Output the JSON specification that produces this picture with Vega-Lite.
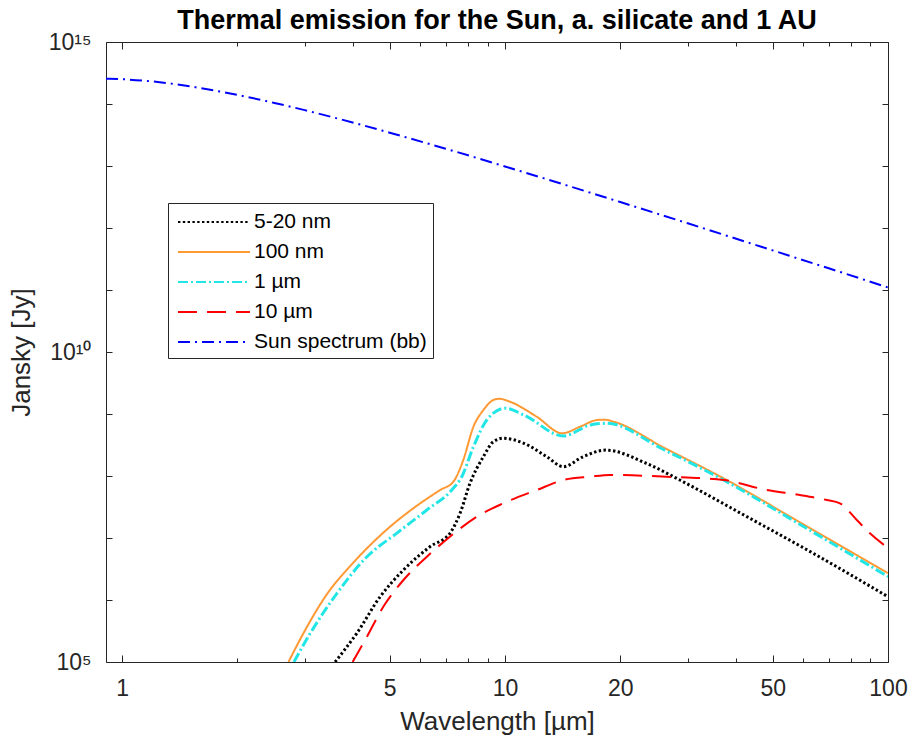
{
  "$schema": "https://vega.github.io/schema/vega-lite/v6.json",
  "width": 782,
  "height": 620,
  "autosize": {"type": "none"},
  "padding": {"left": 106, "top": 42, "right": 22, "bottom": 82},
  "background": "#ffffff",
  "title": {
    "text": "Thermal emission for the Sun, a. silicate and 1 AU",
    "anchor": "middle",
    "font": "Liberation Sans",
    "fontSize": 27,
    "fontWeight": "bold",
    "color": "#000000",
    "offset": -4
  },
  "datasets": {
    "spectra": [
      {"series": "5-20 nm", "wl": 3.6, "jy": 1.0e5},
      {"series": "5-20 nm", "wl": 4.1, "jy": 2.9e5},
      {"series": "5-20 nm", "wl": 4.72, "jy": 1.13e6},
      {"series": "5-20 nm", "wl": 5.43, "jy": 3.05e6},
      {"series": "5-20 nm", "wl": 6.37, "jy": 7.24e6},
      {"series": "5-20 nm", "wl": 7.18, "jy": 1.19e7},
      {"series": "5-20 nm", "wl": 7.63, "jy": 2.5e7},
      {"series": "5-20 nm", "wl": 8.1, "jy": 7.62e7},
      {"series": "5-20 nm", "wl": 8.78, "jy": 2.05e8},
      {"series": "5-20 nm", "wl": 9.32, "jy": 3.57e8},
      {"series": "5-20 nm", "wl": 9.9, "jy": 4.06e8},
      {"series": "5-20 nm", "wl": 11.2, "jy": 3.37e8},
      {"series": "5-20 nm", "wl": 12.85, "jy": 2.05e8},
      {"series": "5-20 nm", "wl": 14.2, "jy": 1.41e8},
      {"series": "5-20 nm", "wl": 16.0, "jy": 2.05e8},
      {"series": "5-20 nm", "wl": 18.3, "jy": 2.62e8},
      {"series": "5-20 nm", "wl": 23.4, "jy": 1.6e8},
      {"series": "5-20 nm", "wl": 28.6, "jy": 8.61e7},
      {"series": "5-20 nm", "wl": 42.8, "jy": 2.21e7},
      {"series": "5-20 nm", "wl": 63.8, "jy": 5.66e6},
      {"series": "5-20 nm", "wl": 100, "jy": 1.13e6},

      {"series": "100 nm", "wl": 2.72, "jy": 1.0e5},
      {"series": "100 nm", "wl": 2.975, "jy": 2.9e5},
      {"series": "100 nm", "wl": 3.49, "jy": 1.45e6},
      {"series": "100 nm", "wl": 3.86, "jy": 3.05e6},
      {"series": "100 nm", "wl": 4.36, "jy": 6.82e6},
      {"series": "100 nm", "wl": 5.01, "jy": 1.52e7},
      {"series": "100 nm", "wl": 5.76, "jy": 3.01e7},
      {"series": "100 nm", "wl": 6.77, "jy": 5.94e7},
      {"series": "100 nm", "wl": 7.33, "jy": 8.09e7},
      {"series": "100 nm", "wl": 7.78, "jy": 1.81e8},
      {"series": "100 nm", "wl": 8.27, "jy": 6.24e8},
      {"series": "100 nm", "wl": 8.78, "jy": 1.16e9},
      {"series": "100 nm", "wl": 9.32, "jy": 1.68e9},
      {"series": "100 nm", "wl": 9.65, "jy": 1.76e9},
      {"series": "100 nm", "wl": 10.3, "jy": 1.58e9},
      {"series": "100 nm", "wl": 12.1, "jy": 9.04e8},
      {"series": "100 nm", "wl": 14.1, "jy": 4.89e8},
      {"series": "100 nm", "wl": 15.7, "jy": 6.24e8},
      {"series": "100 nm", "wl": 17.4, "jy": 8.0e8},
      {"series": "100 nm", "wl": 18.2, "jy": 8.1e8},
      {"series": "100 nm", "wl": 19.2, "jy": 7.52e8},
      {"series": "100 nm", "wl": 26, "jy": 2.86e8},
      {"series": "100 nm", "wl": 37.2, "jy": 9.18e7},
      {"series": "100 nm", "wl": 60, "jy": 1.67e7},
      {"series": "100 nm", "wl": 100, "jy": 2.72e6},

      {"series": "1 µm", "wl": 2.81, "jy": 1.0e5},
      {"series": "1 µm", "wl": 3.1, "jy": 2.9e5},
      {"series": "1 µm", "wl": 3.64, "jy": 1.28e6},
      {"series": "1 µm", "wl": 4.36, "jy": 4.99e6},
      {"series": "1 µm", "wl": 5.21, "jy": 1.19e7},
      {"series": "1 µm", "wl": 6.25, "jy": 2.83e7},
      {"series": "1 µm", "wl": 7.26, "jy": 5.94e7},
      {"series": "1 µm", "wl": 7.71, "jy": 9.75e7},
      {"series": "1 µm", "wl": 8.27, "jy": 2.97e8},
      {"series": "1 µm", "wl": 8.96, "jy": 8.0e8},
      {"series": "1 µm", "wl": 10.0, "jy": 1.24e9},
      {"series": "1 µm", "wl": 11.2, "jy": 9.64e8},
      {"series": "1 µm", "wl": 14.2, "jy": 4.42e8},
      {"series": "1 µm", "wl": 16.7, "jy": 6.65e8},
      {"series": "1 µm", "wl": 18.4, "jy": 7.08e8},
      {"series": "1 µm", "wl": 26, "jy": 2.65e8},
      {"series": "1 µm", "wl": 37.2, "jy": 8.61e7},
      {"series": "1 µm", "wl": 60, "jy": 1.55e7},
      {"series": "1 µm", "wl": 100, "jy": 2.38e6},

      {"series": "10 µm", "wl": 4.0, "jy": 1.0e5},
      {"series": "10 µm", "wl": 4.36, "jy": 2.56e5},
      {"series": "10 µm", "wl": 4.81, "jy": 7.8e5},
      {"series": "10 µm", "wl": 5.43, "jy": 2.1e6},
      {"series": "10 µm", "wl": 6.25, "jy": 4.99e6},
      {"series": "10 µm", "wl": 7.18, "jy": 1.05e7},
      {"series": "10 µm", "wl": 8.44, "jy": 2.21e7},
      {"series": "10 µm", "wl": 9.9, "jy": 3.63e7},
      {"series": "10 µm", "wl": 12.1, "jy": 5.94e7},
      {"series": "10 µm", "wl": 14.2, "jy": 8.61e7},
      {"series": "10 µm", "wl": 16.7, "jy": 9.75e7},
      {"series": "10 µm", "wl": 18.8, "jy": 1.04e8},
      {"series": "10 µm", "wl": 26.4, "jy": 9.75e7},
      {"series": "10 µm", "wl": 37.2, "jy": 8.61e7},
      {"series": "10 µm", "wl": 48.2, "jy": 5.94e7},
      {"series": "10 µm", "wl": 58.9, "jy": 4.94e7},
      {"series": "10 µm", "wl": 69.2, "jy": 4.1e7},
      {"series": "10 µm", "wl": 74.9, "jy": 3.63e7},
      {"series": "10 µm", "wl": 82.9, "jy": 1.95e7},
      {"series": "10 µm", "wl": 89.7, "jy": 1.19e7},
      {"series": "10 µm", "wl": 100, "jy": 6.9e6},

      {"series": "Sun spectrum (bb)", "wl": 0.908, "jy": 2.56e14},
      {"series": "Sun spectrum (bb)", "wl": 1.0, "jy": 2.51e14},
      {"series": "Sun spectrum (bb)", "wl": 1.2, "jy": 2.31e14},
      {"series": "Sun spectrum (bb)", "wl": 1.5, "jy": 1.93e14},
      {"series": "Sun spectrum (bb)", "wl": 2.0, "jy": 1.4e14},
      {"series": "Sun spectrum (bb)", "wl": 2.5, "jy": 1.04e14},
      {"series": "Sun spectrum (bb)", "wl": 3.0, "jy": 7.96e13},
      {"series": "Sun spectrum (bb)", "wl": 4.0, "jy": 5.03e13},
      {"series": "Sun spectrum (bb)", "wl": 5.0, "jy": 3.44e13},
      {"series": "Sun spectrum (bb)", "wl": 7.0, "jy": 1.9e13},
      {"series": "Sun spectrum (bb)", "wl": 10.0, "jy": 9.83e12},
      {"series": "Sun spectrum (bb)", "wl": 15.0, "jy": 4.56e12},
      {"series": "Sun spectrum (bb)", "wl": 20.0, "jy": 2.62e12},
      {"series": "Sun spectrum (bb)", "wl": 30.0, "jy": 1.19e12},
      {"series": "Sun spectrum (bb)", "wl": 50.0, "jy": 4.35e11},
      {"series": "Sun spectrum (bb)", "wl": 70.0, "jy": 2.24e11},
      {"series": "Sun spectrum (bb)", "wl": 100.0, "jy": 1.1e11}
    ]
  },
  "data": {"name": "spectra"},
  "encoding": {
    "color": {
      "field": "series",
      "type": "nominal",
      "scale": {
        "domain": ["5-20 nm", "100 nm", "1 µm", "10 µm", "Sun spectrum (bb)"],
        "range": ["#000000", "#FF9933", "#22E6E6", "#FF0000", "#0000FF"]
      },
      "legend": {
        "orient": "none",
        "legendX": 62,
        "legendY": 161,
        "title": null
      }
    },
    "strokeDash": {
      "field": "series",
      "type": "nominal",
      "scale": {
        "domain": ["5-20 nm", "100 nm", "1 µm", "10 µm", "Sun spectrum (bb)"],
        "range": [[2.4, 2.4], [1, 0], [10, 3, 2, 3], [19, 10], [12, 5, 2, 5]]
      },
      "legend": {
        "orient": "none",
        "legendX": 62,
        "legendY": 161,
        "title": null
      }
    }
  },
  "layer": [
    {
      "transform": [{"filter": "datum.series === '5-20 nm'"}],
      "mark": {"type": "line", "interpolate": "monotone", "clip": true, "strokeWidth": 3},
      "encoding": {
        "x": {
          "field": "wl", "type": "quantitative",
          "scale": {"type": "log", "domain": [0.908, 100], "nice": false},
          "axis": {
            "orient": "bottom", "values": [1, 5, 10, 20, 50, 100], "format": "d",
            "tickSize": -7, "labelPadding": 22, "labelFlush": false, "labelOverlap": false, "labelBound": false,
            "title": "Wavelength [µm]", "titlePadding": 8
          }
        },
        "y": {
          "field": "jy", "type": "quantitative",
          "scale": {"type": "log", "domain": [1e5, 1e15], "nice": false},
          "axis": {
            "orient": "left",
            "values": [1e5, 1e6, 1e7, 1e8, 1e9, 1e10, 1e11, 1e12, 1e13, 1e14, 1e15],
            "labelExpr": "round(log(datum.value)/LN10) === 5 ? '10⁵' : round(log(datum.value)/LN10) === 10 ? '10¹⁰' : round(log(datum.value)/LN10) === 15 ? '10¹⁵' : ''",
            "tickSize": -6, "labelPadding": 21, "labelFlush": false, "labelOverlap": false, "labelBound": false,
            "title": "Jansky [Jy]", "titlePadding": 14
          }
        }
      }
    },
    {
      "transform": [{"filter": "datum.series === '100 nm'"}],
      "mark": {"type": "line", "interpolate": "monotone", "clip": true, "strokeWidth": 2},
      "encoding": {
        "x": {
          "field": "wl", "type": "quantitative",
          "scale": {"type": "log", "domain": [0.908, 100], "nice": false},
          "axis": {"orient": "top", "values": [1, 5, 10, 20, 50, 100], "tickSize": -7, "labels": false, "title": null}
        },
        "y": {
          "field": "jy", "type": "quantitative",
          "scale": {"type": "log", "domain": [1e5, 1e15], "nice": false},
          "axis": {
            "orient": "right",
            "values": [1e5, 1e6, 1e7, 1e8, 1e9, 1e10, 1e11, 1e12, 1e13, 1e14, 1e15],
            "tickSize": -6, "labels": false, "title": null
          }
        }
      }
    },
    {
      "transform": [{"filter": "datum.series === '1 µm'"}],
      "mark": {"type": "line", "interpolate": "monotone", "clip": true, "strokeWidth": 3},
      "encoding": {
        "x": {
          "field": "wl", "type": "quantitative",
          "scale": {"type": "log", "domain": [0.908, 100], "nice": false},
          "axis": {"orient": "bottom", "values": [2, 3, 4, 6, 7, 8, 9, 30, 40, 60, 70, 80, 90], "tickSize": -4, "labels": false, "title": null}
        },
        "y": {
          "field": "jy", "type": "quantitative",
          "scale": {"type": "log", "domain": [1e5, 1e15], "nice": false},
          "axis": null
        }
      }
    },
    {
      "transform": [{"filter": "datum.series === '10 µm'"}],
      "mark": {"type": "line", "interpolate": "monotone", "clip": true, "strokeWidth": 2},
      "encoding": {
        "x": {
          "field": "wl", "type": "quantitative",
          "scale": {"type": "log", "domain": [0.908, 100], "nice": false},
          "axis": {"orient": "top", "values": [2, 3, 4, 6, 7, 8, 9, 30, 40, 60, 70, 80, 90], "tickSize": -4, "labels": false, "title": null}
        },
        "y": {
          "field": "jy", "type": "quantitative",
          "scale": {"type": "log", "domain": [1e5, 1e15], "nice": false},
          "axis": null
        }
      }
    },
    {
      "transform": [{"filter": "datum.series === 'Sun spectrum (bb)'"}],
      "mark": {"type": "line", "interpolate": "monotone", "clip": true, "strokeWidth": 2},
      "encoding": {
        "x": {
          "field": "wl", "type": "quantitative",
          "scale": {"type": "log", "domain": [0.908, 100], "nice": false},
          "axis": null
        },
        "y": {
          "field": "jy", "type": "quantitative",
          "scale": {"type": "log", "domain": [1e5, 1e15], "nice": false},
          "axis": null
        }
      }
    }
  ],
  "resolve": {"axis": {"x": "independent", "y": "independent"}},
  "config": {
    "view": {"stroke": "#262626", "strokeWidth": 1},
    "axis": {
      "domain": false,
      "grid": false,
      "tickColor": "#262626",
      "tickWidth": 1,
      "labelColor": "#262626",
      "titleColor": "#262626",
      "labelFont": "Liberation Sans",
      "titleFont": "Liberation Sans",
      "labelFontSize": 23,
      "titleFontSize": 26,
      "titleFontWeight": "normal"
    },
    "legend": {
      "symbolType": "M-3,0H3",
      "symbolSize": 576,
      "symbolOffset": 27,
      "symbolStrokeWidth": 2,
      "labelOffset": 27,
      "labelLimit": 400,
      "labelFont": "Liberation Sans",
      "labelFontSize": 21,
      "labelColor": "#000000",
      "strokeColor": "#262626",
      "fillColor": "#ffffff",
      "padding": 6,
      "rowPadding": 7,
      "cornerRadius": 0
    }
  }
}
